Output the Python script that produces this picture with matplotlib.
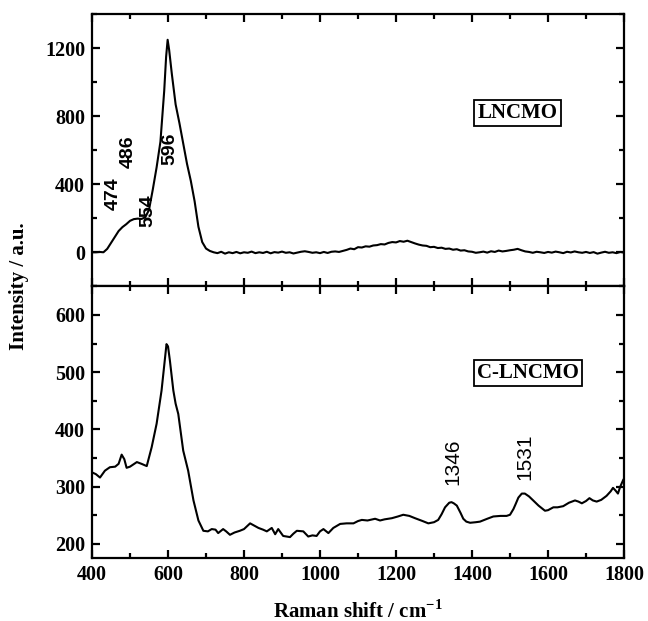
import matplotlib
matplotlib.use("Agg")
import matplotlib.pyplot as plt
from matplotlib.ticker import MultipleLocator

# espectro Raman LNCMO (painel superior)
x_lncmo = [400, 410, 420, 430, 440, 450, 460, 470, 480, 490, 500, 510, 520, 530, 540,
           550, 560, 570, 580, 590, 595, 599, 603, 610, 620, 630, 640, 650, 660, 670,
           680, 690, 700, 710, 720, 730, 740, 750, 760, 770, 780, 790, 800, 810, 820,
           830, 840, 850, 860, 870, 880, 890, 900, 910, 920, 930, 940, 950, 960, 970,
           980, 990, 1000, 1010, 1020, 1030, 1040, 1050, 1060, 1070, 1080, 1090, 1100,
           1110, 1120, 1130, 1140, 1150, 1160, 1170, 1180, 1190, 1200, 1210, 1220, 1230,
           1240, 1250, 1260, 1270, 1280, 1290, 1300, 1310, 1320, 1330, 1340, 1350, 1360,
           1370, 1380, 1390, 1400, 1410, 1420, 1430, 1440, 1450, 1460, 1470, 1480, 1490,
           1500, 1510, 1520, 1530, 1540, 1550, 1560, 1570, 1580, 1590, 1600, 1610, 1620,
           1630, 1640, 1650, 1660, 1670, 1680, 1690, 1700, 1710, 1720, 1730, 1740, 1750,
           1760, 1770, 1780, 1790, 1800]
y_lncmo = [0, 0, 2, 0, 20, 55, 90, 125, 148, 165, 185, 195, 198, 196, 205,
           250, 370, 500, 650, 950, 1150, 1250, 1190, 1050, 870, 760, 640, 520, 420, 300,
           150, 60, 22, 8, 0, -5, 3, -8, 0, -5, 2, -6, 0, -3, 4,
           -5, 0, -4, 3, -6, 1, -2, 4, -3, 0, -7, -2, 3, 6, 2,
           -3, 0, -5, 2, -4, 3, 5, 2, 8, 14, 22, 18, 30,
           28, 35, 33, 40, 42, 48, 46, 55, 60, 58, 66, 62, 68,
           60, 52, 45, 40, 38, 30, 32, 25, 27, 20, 22, 15, 18,
           10, 12, 5, 3, -3, 0, 4, -2, 6, 2, 10, 5, 8,
           12, 15, 20, 12, 5, 2, -3, 3, 0, -4, 2, -2, 4,
           0, -5, 3, -1, 5, 0, -3, 2, -4, 1, -8, -2, 3,
           -3, 0, -5, 2, -2]

# espectro Raman C-LNCMO (painel inferior)
x_clncmo = [400, 410, 421, 434, 447, 461, 470, 478, 485, 491, 500, 518, 530, 544, 557,
            570, 583, 596, 600, 605, 614, 620, 627, 640, 653, 667, 680, 693, 705, 715,
            725, 732, 745, 753, 763, 775, 789, 800, 816, 827, 838, 850, 860, 873, 882,
            890, 903, 921, 930, 939, 956, 969, 980, 991, 1000, 1009, 1022, 1035, 1053,
            1070, 1088, 1100, 1110, 1125, 1145, 1158, 1170, 1189, 1205, 1219, 1235, 1250,
            1270, 1285, 1300, 1311, 1320, 1329, 1340, 1346, 1352, 1360, 1370, 1377, 1385,
            1395, 1410, 1421, 1440, 1456, 1475, 1491, 1500, 1509, 1515, 1522, 1531, 1539,
            1550, 1561, 1575, 1592, 1600, 1614, 1625, 1640, 1655, 1671, 1680, 1689, 1700,
            1709, 1718, 1728, 1740, 1754, 1765, 1771, 1778, 1784, 1790, 1798, 1800]
y_clncmo = [325, 322, 316, 328, 334, 335, 340, 356, 348, 333, 335, 343, 340, 336, 369,
            410, 468, 549, 545, 520, 468, 445, 427, 363, 328, 276, 241, 223, 222, 226,
            225, 219, 226, 222, 216, 220, 223, 226, 236, 232, 228, 225, 222, 228, 217,
            226, 214, 212, 218, 223, 222, 213, 215, 214, 222, 226, 219, 228, 235,
            236, 236, 240, 242, 241, 244, 241, 243, 245, 248, 251, 249, 245,
            240, 236, 238, 242, 252, 264, 272, 273, 271, 267, 254, 244, 239,
            237, 238, 239, 244, 248, 249, 249, 251, 261, 270, 281, 288, 288,
            283, 276, 267, 258, 259, 264, 264, 266, 272, 276, 274, 271, 275,
            280, 276, 274, 277, 284, 292, 298, 293, 288, 300, 312, 314]

# rótulos dos picos
picos_top = ["474", "486", "554", "596"]
picos_top_x = [455, 495, 547, 605]
picos_top_y = [345, 590, 245, 608]
picos_bot = ["1346", "1531"]
picos_bot_x = [1350, 1539]
picos_bot_y = [344, 353]

plt.rcParams['font.family'] = 'Liberation Serif'
plt.rcParams['font.weight'] = 'bold'
plt.rcParams['mathtext.fontset'] = 'custom'
plt.rcParams['mathtext.rm'] = 'Liberation Serif:bold'
plt.rcParams['mathtext.bf'] = 'Liberation Serif:bold'

fig, (ax1, ax2) = plt.subplots(2, 1, sharex=True, figsize=(6.48, 6.21), dpi=100)
fig.subplots_adjust(left=0.142, right=0.963, top=0.977, bottom=0.101, hspace=0)

ax1.plot(x_lncmo, y_lncmo, color="black", lw=1.5)
ax2.plot(x_clncmo, y_clncmo, color="black", lw=1.5)

ax1.set_xlim(400, 1800)
ax1.set_ylim(-200, 1400)
ax2.set_ylim(175, 650)

ax1.yaxis.set_major_locator(MultipleLocator(400))
ax1.yaxis.set_minor_locator(MultipleLocator(200))
ax2.yaxis.set_major_locator(MultipleLocator(100))
ax2.yaxis.set_minor_locator(MultipleLocator(50))
ax2.xaxis.set_major_locator(MultipleLocator(200))
ax2.xaxis.set_minor_locator(MultipleLocator(100))

for ax in (ax1, ax2):
    for s in ax.spines.values():
        s.set_linewidth(1.6)
    ax.tick_params(which='both', direction='in', top=True, right=True, width=1.6,
                   labelsize=14.5, pad=5)
    ax.tick_params(which='major', length=6)
    ax.tick_params(which='minor', length=3.5)
ax1.tick_params(labelbottom=False)

for t, x, y in zip(picos_top, picos_top_x, picos_top_y):
    ax1.text(x, y, t, rotation=90, ha='center', va='center', fontsize=14,
             family='Liberation Sans', weight='bold')
for t, x, y in zip(picos_bot, picos_bot_x, picos_bot_y):
    ax2.text(x, y, t, rotation=90, ha='center', va='center', fontsize=15,
             family='Liberation Sans', weight='normal')

caixa = dict(boxstyle='square,pad=0.15', fc='white', ec='black', lw=1.3)
ax1.text(0.80, 0.636, "LNCMO", transform=ax1.transAxes, ha='center', va='center',
         fontsize=15, bbox=caixa)
ax2.text(0.82, 0.68, "C-LNCMO", transform=ax2.transAxes, ha='center', va='center',
         fontsize=15, bbox=caixa)

fig.text(0.552, 0.016, r"Raman shift / cm$^{-1}$", ha='center', va='center', fontsize=15)
fig.text(0.03, 0.539, "Intensity / a.u.", rotation=90, ha='center', va='center',
         fontsize=15)

fig.savefig("out.png", dpi=100)
